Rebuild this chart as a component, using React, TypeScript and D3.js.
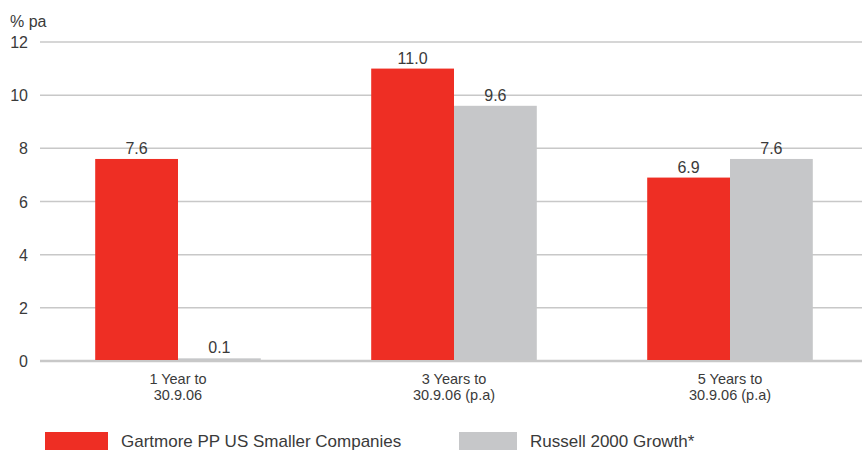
import { useEffect, useRef } from 'react';
import * as d3 from 'd3';

const categories = ['1 Year to|30.9.06', '3 Years to|30.9.06 (p.a)', '5 Years to|30.9.06 (p.a)'];
const seriesNames = ['Gartmore PP US Smaller Companies', 'Russell 2000 Growth*'];
const gartmore = [7.6, 11.0, 6.9];
const russell = [0.1, 9.6, 7.6];
const yTicks = [0, 2, 4, 6, 8, 10, 12];

export default function App() {
  const ref = useRef<SVGSVGElement>(null);

  useEffect(() => {
    if (!ref.current) return;
    const svg = d3.select(ref.current);
    svg.selectAll('*').remove();

    const width = 862;
    const left = 40;
    const font = "'Liberation Sans', Arial, sans-serif";
    const colors = ['#ee2e24', '#c6c7c9'];
    const textColor = '#3a3a3a';

    const x = d3.scaleBand<string>().domain(categories).range([left, 868]).paddingInner(0.4).paddingOuter(0.2);
    const xSub = d3.scaleBand<number>().domain([0, 1]).range([0, x.bandwidth()]);
    const y = d3.scaleLinear().domain([0, 12]).range([361, 42]);

    // grid + y labels
    yTicks.forEach((t) => {
      svg.append('line')
        .attr('x1', left).attr('x2', width)
        .attr('y1', y(t)).attr('y2', y(t))
        .attr('stroke', '#c8c8c8')
        .attr('stroke-width', t === 0 ? 2.5 : 1.5);
      svg.append('text')
        .attr('x', 28).attr('y', y(t) + 6)
        .attr('text-anchor', 'end')
        .attr('font-family', font).attr('font-size', 16)
        .attr('fill', textColor)
        .text(t);
    });

    svg.append('text')
      .attr('x', 10).attr('y', 27)
      .attr('font-family', font).attr('font-size', 16)
      .attr('fill', textColor)
      .text('% pa');

    const series = [gartmore, russell];
    series.forEach((vals, si) => {
      vals.forEach((v, i) => {
        const bx = x(categories[i])! + xSub(si)!;
        svg.append('rect')
          .attr('x', bx).attr('y', y(v))
          .attr('width', xSub.bandwidth())
          .attr('height', y(0) - y(v) - 1)
          .attr('fill', colors[si]);
        svg.append('text')
          .attr('x', bx + xSub.bandwidth() / 2).attr('y', y(v) - 5)
          .attr('text-anchor', 'middle')
          .attr('font-family', font).attr('font-size', 16)
          .attr('fill', textColor)
          .text(v.toFixed(1));
      });
    });

    // category labels
    categories.forEach((c) => {
      const cx = x(c)! + x.bandwidth() / 2;
      c.split('|').forEach((line, li) => {
        svg.append('text')
          .attr('x', cx).attr('y', 384 + li * 16)
          .attr('text-anchor', 'middle')
          .attr('font-family', font).attr('font-size', 14.5)
          .attr('fill', textColor)
          .text(line);
      });
    });

    // legend
    const legendX = [45, 459];
    const legendW = [63, 58];
    seriesNames.forEach((name, i) => {
      svg.append('rect')
        .attr('x', legendX[i]).attr('y', 432)
        .attr('width', legendW[i]).attr('height', 20)
        .attr('fill', colors[i]);
      svg.append('text')
        .attr('x', legendX[i] + legendW[i] + 13).attr('y', 447)
        .attr('font-family', font).attr('font-size', 17)
        .attr('fill', textColor)
        .text(name);
    });
  }, []);

  return (
    <svg ref={ref} width={862} height={450}
      style={{ position: 'absolute', left: 0, top: 0, background: '#fff' }} />
  );
}
